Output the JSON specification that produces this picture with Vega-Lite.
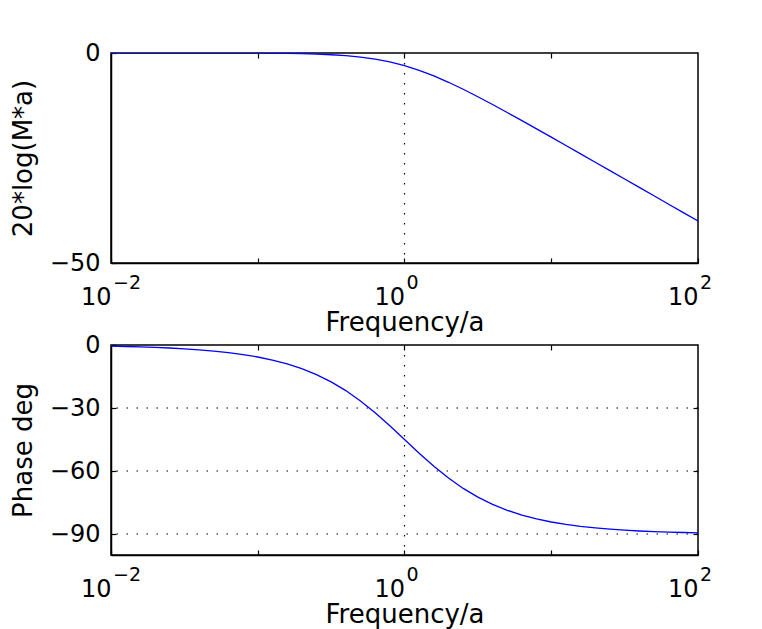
{
  "$schema": "https://vega.github.io/schema/vega-lite/v6.json",
  "autosize": {"type": "pad"},
  "padding": {"left": 9, "top": 40, "right": 5, "bottom": 5},
  "background": "white",
  "config": {
    "font": "DejaVu Sans",
    "view": {"stroke": "black", "strokeWidth": 1.5},
    "axis": {
      "domainColor": "black", "domainWidth": 1.5, "tickColor": "black", "tickWidth": 1.2,
      "labelColor": "black", "titleColor": "black",
      "labelFont": "DejaVu Sans", "titleFont": "DejaVu Sans",
      "labelFontSize": 24, "titleFontSize": 26, "titleFontWeight": "normal",
      "grid": false, "tickSize": -5, "labelOverlap": false, "labelFlush": false
    }
  },
  "datasets": {
    "bode": [
      {"f": 0.01, "mag": -0.0004, "ph": -0.573},
      {"f": 0.012589, "mag": -0.0007, "ph": -0.721},
      {"f": 0.015849, "mag": -0.0011, "ph": -0.908},
      {"f": 0.019953, "mag": -0.0017, "ph": -1.143},
      {"f": 0.025119, "mag": -0.0027, "ph": -1.439},
      {"f": 0.031623, "mag": -0.0043, "ph": -1.811},
      {"f": 0.039811, "mag": -0.0069, "ph": -2.28},
      {"f": 0.050119, "mag": -0.0109, "ph": -2.869},
      {"f": 0.063096, "mag": -0.0173, "ph": -3.61},
      {"f": 0.079433, "mag": -0.0273, "ph": -4.542},
      {"f": 0.1, "mag": -0.0432, "ph": -5.711},
      {"f": 0.125893, "mag": -0.0683, "ph": -7.175},
      {"f": 0.158489, "mag": -0.1078, "ph": -9.006},
      {"f": 0.199526, "mag": -0.1696, "ph": -11.285},
      {"f": 0.251189, "mag": -0.266, "ph": -14.101},
      {"f": 0.316228, "mag": -0.4139, "ph": -17.548},
      {"f": 0.398107, "mag": -0.6389, "ph": -21.708},
      {"f": 0.501187, "mag": -0.9732, "ph": -26.625},
      {"f": 0.630957, "mag": -1.4554, "ph": -32.265},
      {"f": 0.794328, "mag": -2.1244, "ph": -38.481},
      {"f": 1, "mag": -3.0103, "ph": -45},
      {"f": 1.258925, "mag": -4.1244, "ph": -51.519},
      {"f": 1.584893, "mag": -5.4554, "ph": -57.735},
      {"f": 1.995262, "mag": -6.9732, "ph": -63.375},
      {"f": 2.511886, "mag": -8.6389, "ph": -68.292},
      {"f": 3.162278, "mag": -10.4139, "ph": -72.452},
      {"f": 3.981072, "mag": -12.266, "ph": -75.899},
      {"f": 5.011872, "mag": -14.1696, "ph": -78.715},
      {"f": 6.309573, "mag": -16.1078, "ph": -80.994},
      {"f": 7.943282, "mag": -18.0683, "ph": -82.825},
      {"f": 10, "mag": -20.0432, "ph": -84.289},
      {"f": 12.589254, "mag": -22.0273, "ph": -85.458},
      {"f": 15.848932, "mag": -24.0173, "ph": -86.39},
      {"f": 19.952623, "mag": -26.0109, "ph": -87.131},
      {"f": 25.118864, "mag": -28.0069, "ph": -87.72},
      {"f": 31.622777, "mag": -30.0043, "ph": -88.189},
      {"f": 39.810717, "mag": -32.0027, "ph": -88.561},
      {"f": 50.118723, "mag": -34.0017, "ph": -88.857},
      {"f": 63.095734, "mag": -36.0011, "ph": -89.092},
      {"f": 79.432823, "mag": -38.0007, "ph": -89.279},
      {"f": 100, "mag": -40.0004, "ph": -89.427}
    ],
    "xexp": [{"x": 0.01, "e": "−2"}, {"x": 1, "e": "0"}, {"x": 100, "e": "2"}],
    "vgrid": [{"x": 1}],
    "hgrid": [{"y": -30}, {"y": -60}, {"y": -90}]
  },
  "bounds": "flush",
  "spacing": 82,
  "vconcat": [
    {
      "width": 587, "height": 210,
      "resolve": {"axis": {"x": "independent", "y": "independent"}},
      "layer": [
        {
          "data": {"name": "vgrid"},
          "mark": {"type": "rule", "color": "black", "strokeWidth": 1.2, "strokeDash": [1.5, 8.5]},
          "encoding": {
            "x": {"field": "x", "type": "quantitative",
              "scale": {"type": "log", "domain": [0.01, 100], "nice": false},
              "axis": {"orient": "bottom", "values": [0.01, 0.1, 1, 10, 100],
                "labelExpr": "(abs(datum.value-0.01)<1e-6 || abs(datum.value-1)<1e-6 || abs(datum.value-100)<1e-4) ? '10' : ''",
                "labelAlign": "right", "labelBaseline": "alphabetic", "labelPadding": 46,
                "title": "Frequency/a", "titlePadding": 0}}
          }
        },
        {
          "data": {"name": "bode"},
          "mark": {"type": "line", "color": "#0000ff", "strokeWidth": 1.3, "clip": true},
          "encoding": {
            "x": {"field": "f", "type": "quantitative",
              "axis": {"orient": "top", "values": [0.1, 1, 10], "labels": false, "domain": false, "title": null}},
            "y": {"field": "mag", "type": "quantitative",
              "scale": {"domain": [-50, 0], "nice": false, "zero": false},
              "axis": {"values": [-50, 0], "labelPadding": 16, "title": "20*log(M*a)", "titlePadding": 13}}
          }
        },
        {
          "data": {"name": "xexp"},
          "mark": {"type": "text", "align": "left", "baseline": "alphabetic", "dx": 2, "dy": 26, "fontSize": 19, "color": "black"},
          "encoding": {
            "x": {"field": "x", "type": "quantitative", "axis": null},
            "y": {"datum": -50, "type": "quantitative", "axis": null},
            "text": {"field": "e"}
          }
        }
      ]
    },
    {
      "width": 587, "height": 210,
      "resolve": {"axis": {"x": "independent", "y": "independent"}},
      "layer": [
        {
          "data": {"name": "vgrid"},
          "mark": {"type": "rule", "color": "black", "strokeWidth": 1.2, "strokeDash": [1.5, 8.5]},
          "encoding": {
            "x": {"field": "x", "type": "quantitative",
              "scale": {"type": "log", "domain": [0.01, 100], "nice": false},
              "axis": {"orient": "bottom", "values": [0.01, 0.1, 1, 10, 100],
                "labelExpr": "(abs(datum.value-0.01)<1e-6 || abs(datum.value-1)<1e-6 || abs(datum.value-100)<1e-4) ? '10' : ''",
                "labelAlign": "right", "labelBaseline": "alphabetic", "labelPadding": 46,
                "title": "Frequency/a", "titlePadding": 0}}
          }
        },
        {
          "data": {"name": "hgrid"},
          "mark": {"type": "rule", "color": "black", "strokeWidth": 1.2, "strokeDash": [1.5, 8.5]},
          "encoding": {
            "y": {"field": "y", "type": "quantitative",
              "scale": {"domain": [-100, 0], "nice": false, "zero": false},
              "axis": {"orient": "right", "values": [-30, -60, -90], "labels": false, "domain": false, "title": null}}
          }
        },
        {
          "data": {"name": "bode"},
          "mark": {"type": "line", "color": "#0000ff", "strokeWidth": 1.3, "clip": true},
          "encoding": {
            "x": {"field": "f", "type": "quantitative",
              "axis": {"orient": "top", "values": [0.1, 1, 10], "labels": false, "domain": false, "title": null}},
            "y": {"field": "ph", "type": "quantitative",
              "axis": {"orient": "left", "values": [0, -30, -60, -90], "labelPadding": 16, "title": "Phase deg", "titlePadding": 13}}
          }
        },
        {
          "data": {"name": "xexp"},
          "mark": {"type": "text", "align": "left", "baseline": "alphabetic", "dx": 2, "dy": 26, "fontSize": 19, "color": "black"},
          "encoding": {
            "x": {"field": "x", "type": "quantitative", "axis": null},
            "y": {"datum": -100, "type": "quantitative", "axis": null},
            "text": {"field": "e"}
          }
        }
      ]
    }
  ]
}
